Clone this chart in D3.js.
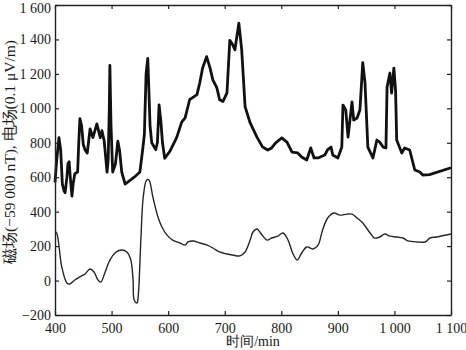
<!DOCTYPE html>
<html>
<head>
<meta charset="utf-8">
<script src="https://cdn.jsdelivr.net/npm/d3@7"></script>
<style>
  body { margin: 0; background: #fff; }
  text { font-family: "Liberation Serif", "DejaVu Serif", serif; fill: #1a1a1a; }
</style>
</head>
<body>
<div id="viz"></div>
<script>
// electric field trace (upper, thick)
var eTime = [400, 403, 407, 410, 413, 416, 418, 421, 423, 425, 427, 430, 432, 435, 440, 442, 444, 447, 450, 453,
             457, 462, 467, 474, 480, 483, 487, 492, 494, 496, 497, 499, 502, 507, 511, 514, 518, 524, 540, 550,
             555, 558, 561, 564, 566, 568, 571, 578, 581, 584, 587, 590, 594, 603, 615, 624, 630, 638, 651, 656,
             661, 668, 674, 679, 686, 691, 697, 704, 709, 714, 718, 725, 730, 736, 745, 757, 767, 776, 783, 790,
             801, 810, 819, 829, 836, 845, 852, 858, 865, 877, 882, 888, 891, 900, 907, 909, 914, 918, 925, 928,
             934, 939, 944, 948, 953, 962, 969, 974, 980, 985, 987, 992, 995, 999, 1002, 1004, 1013, 1018, 1027, 1036,
             1045, 1050, 1062, 1100];
var eValue = [570, 700, 830, 760, 560, 520, 510, 600, 680, 690, 600, 490, 560, 620, 630, 800, 940, 900, 790, 760,
              740, 880, 830, 910, 830, 870, 810, 630, 700, 1000, 1250, 900, 630, 680, 810, 760, 630, 560, 600, 630,
              760, 850, 1200, 1290, 1100, 900, 800, 760, 800, 1020, 930, 800, 710, 750, 830, 920, 945, 1050, 1080, 1150,
              1235, 1300, 1235, 1165, 1120, 1050, 1040, 1090, 1395, 1370, 1340, 1495, 1340, 1010, 915, 833, 775, 758, 770, 800,
              828, 804, 746, 741, 717, 700, 770, 712, 712, 729, 760, 775, 729, 712, 775, 1019, 990, 833, 1037, 932,
              944, 990, 1265, 1147, 775, 712, 816, 804, 775, 770, 1124, 1205, 1089, 1234, 1106, 816, 741, 770, 758, 642,
              630, 613, 615, 655];

// magnetic field trace (lower, thin)
var bTime = [400, 403, 412, 421, 426, 435, 444, 453, 462, 469, 476, 481, 488, 497, 506, 517, 527, 534, 538, 540,
             545, 547, 552, 556, 562, 566, 573, 582, 589, 598, 608, 621, 630, 635, 644, 656, 669, 679, 691, 704,
             714, 727, 736, 745, 750, 757, 766, 775, 783, 794, 803, 812, 820, 828, 836, 845, 856, 865, 873, 882,
             893, 904, 916, 925, 934, 944, 957, 965, 974, 983, 992, 1004, 1015, 1024, 1040, 1054, 1063, 1075, 1100];
var bValue = [284, 276, 79, -14, -20, 3, 21, 38, 67, 50, 3, -9, 44, 119, 160, 177, 166, 119, 3, -113,
              -130, -95, 253, 485, 584, 584, 485, 369, 311, 264, 235, 218, 206, 224, 230, 218, 206, 189, 166, 154,
              148, 143, 166, 235, 282, 299, 264, 235, 247, 258, 276, 235, 160, 119, 160, 195, 183, 206, 293, 363,
              392, 380, 386, 386, 363, 334, 276, 247, 253, 270, 258, 253, 247, 230, 224, 224, 247, 253, 270];

var xTicks = [400, 500, 600, 700, 800, 900, 1000, 1100];
var xTickLabels = ['400', '500', '600', '700', '800', '900', '1 000', '1 100'];
var yTicks = [-200, 0, 200, 400, 600, 800, 1000, 1200, 1400, 1600];
var yTickLabels = ['\u2212200', '0', '200', '400', '600', '800', '1 000', '1 200', '1 400', '1 600'];

var margin = { top: 5, right: 15, bottom: 35, left: 55 },
    width = 466 - margin.left - margin.right,
    height = 350 - margin.top - margin.bottom;

var xScale = d3.scaleLinear().domain([400, 1100]).range([0, width]);
var yScale = d3.scaleLinear().domain([-200, 1600]).range([height, 0]);

var svg = d3.select('#viz').append('svg')
    .attr('width', 466)
    .attr('height', 350);

var g = svg.append('g')
    .attr('transform', 'translate(' + margin.left + ',' + margin.top + ')');

var line = d3.line()
    .x(function(d) { return xScale(d[0]); })
    .y(function(d) { return yScale(d[1]); });

g.append('path')
  .datum(bTime.map(function(t, i) { return [t, bValue[i]]; }))
  .attr('fill', 'none')
  .attr('stroke', '#262626')
  .attr('stroke-width', 1.4)
  .attr('d', line.curve(d3.curveCatmullRom.alpha(0.5)));

g.append('path')
  .datum(eTime.map(function(t, i) { return [t, eValue[i]]; }))
  .attr('fill', 'none')
  .attr('stroke', '#111')
  .attr('stroke-width', 2.8)
  .attr('stroke-linejoin', 'round')
  .attr('d', line.curve(d3.curveLinear));

// axes with inward ticks on all four sides
var tickFmtX = function(d) { return xTickLabels[xTicks.indexOf(d)]; };
var tickFmtY = function(d) { return yTickLabels[yTicks.indexOf(d)]; };

var xAxis = g.append('g')
  .attr('transform', 'translate(0,' + height + ')')
  .call(d3.axisBottom(xScale).tickValues(xTicks).tickFormat(tickFmtX).tickSizeInner(-4).tickSizeOuter(0).tickPadding(8));

var xTop = g.append('g')
  .call(d3.axisTop(xScale).tickValues(xTicks).tickFormat('').tickSizeInner(-4).tickSizeOuter(0));

var yAxis = g.append('g')
  .call(d3.axisLeft(yScale).tickValues(yTicks).tickFormat(tickFmtY).tickSizeInner(-4).tickSizeOuter(0).tickPadding(4));

var yRight = g.append('g')
  .attr('transform', 'translate(' + width + ',0)')
  .call(d3.axisRight(yScale).tickValues(yTicks).tickFormat('').tickSizeInner(-4).tickSizeOuter(0));

[xAxis, xTop, yAxis, yRight].forEach(function(a) {
  a.select('.domain').attr('stroke', '#222').attr('stroke-width', 1.4);
  a.selectAll('.tick line').attr('stroke', '#222').attr('stroke-width', 1.2);
  a.selectAll('text').style('font-size', '14px').attr('fill', '#1a1a1a');
});

// keep the top label inside the page
yAxis.selectAll('.tick text')
  .filter(function(d) { return d === 1600; })
  .attr('dy', '0.55em');

svg.append('text')
  .attr('x', margin.left + width / 2)
  .attr('y', 346)
  .attr('text-anchor', 'middle')
  .style('font-size', '14px')
  .text('时间/min');

svg.append('text')
  .attr('transform', 'translate(15,152) rotate(-90)')
  .attr('text-anchor', 'middle')
  .style('font-size', '15.5px')
  .text('磁场(\u221259 000 nT), 电场(0.1 \u03bcV/m)');
</script>
</body>
</html>
